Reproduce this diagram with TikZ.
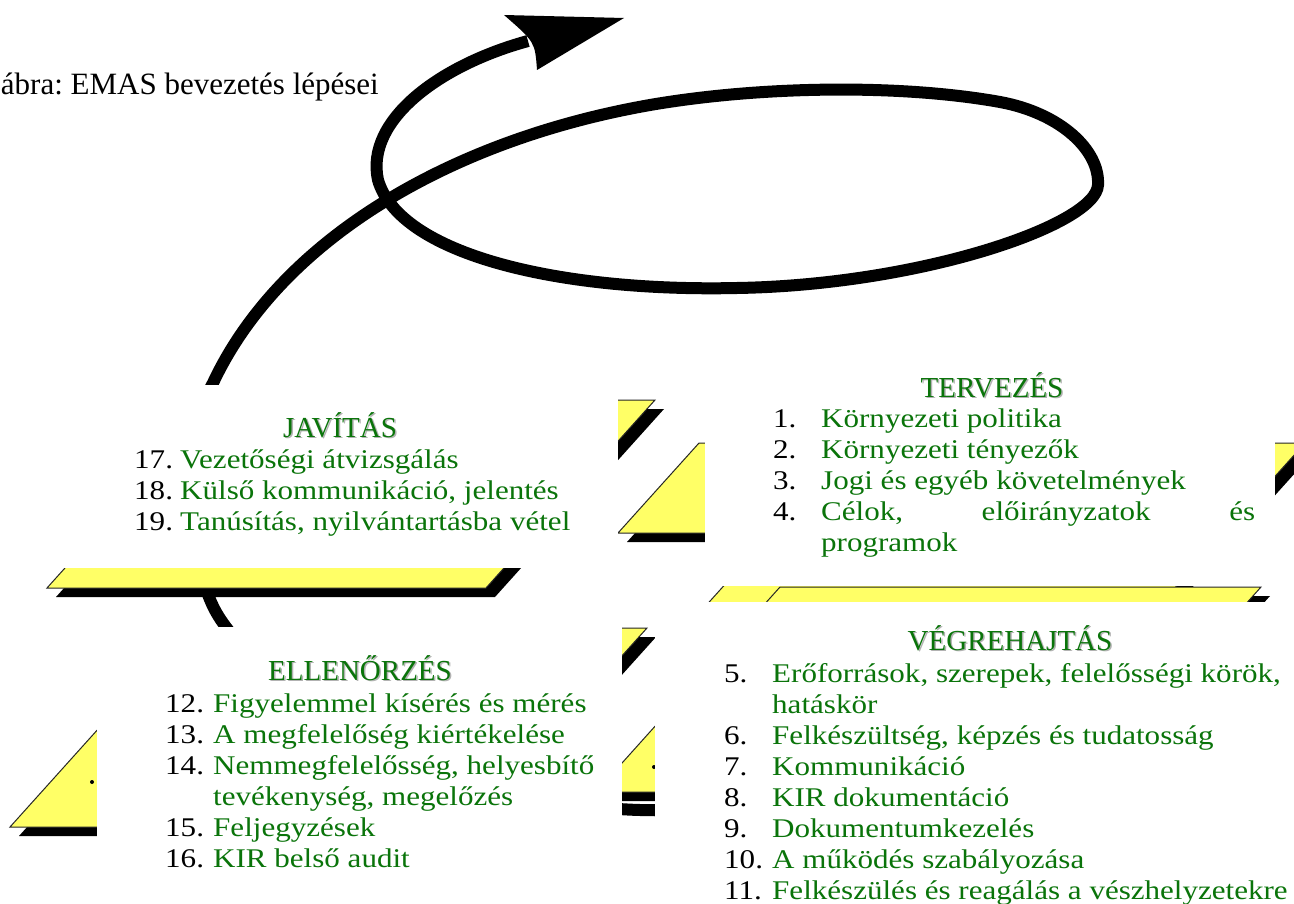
\documentclass[tikz,border=0pt]{standalone}
\usepackage{fontspec}
\setmainfont{Liberation Serif}
\newfontfamily\itemfont[FakeStretch=1.15]{Liberation Serif}
\frenchspacing

\definecolor{phasegreen}{RGB}{10,116,10}
\definecolor{planeyellow}{RGB}{255,255,102}

\tikzset{
  bigarrow/.style    = {line width=12pt},
  plane/.style       = {fill=planeyellow, draw=black!85, line width=1pt},
  planeshadow/.style = {fill=black, shift={(9,9)}},
  cover/.style       = {fill=white},
  caption/.style     = {font=\fontsize{31}{36}\selectfont, anchor=base east, inner sep=0pt},
  heading/.style     = {font=\fontsize{29}{34}\selectfont, text=phasegreen, anchor=base, inner sep=0pt},
  headshadow/.style  = {heading, text=black!30},
  num/.style         = {font=\itemfont\fontsize{27}{31}\selectfont, anchor=base west, inner sep=0pt},
  item/.style        = {num, text=phasegreen}
}

\begin{document}
\begin{tikzpicture}[x=1pt, y=-1pt]
\useasboundingbox (0,0) rectangle (1294,904);

% the spiral arrow, behind everything

\draw[bigarrow] (700,811) -- (640,810)
  .. controls (450,805) and (260,690) .. (216,612)
  .. controls (192,570) and (175,450) .. (213,383)
  .. controls (280,240) and (450,140) .. (650,105)
  .. controls (760,86) and (900,84) .. (1000,102)
  .. controls (1060,113) and (1100,150) .. (1098,185)
  .. controls (1096,225) and (920,285) .. (737,288)
  .. controls (560,292) and (400,255) .. (378,180)
  .. controls (365,120) and (440,65) .. (528,41);
\fill (504,15) -- (624,18) -- (537,70) .. controls (535,42) .. (504,15) -- cycle;

% planes

% javitas
\fill[planeshadow]  (216,400) -- (655,400) -- (486,588) -- (47,588) -- cycle;
\filldraw[plane]    (216,400) -- (655,400) -- (486,588) -- (47,588) -- cycle;
% tervezes
\fill[planeshadow]  (699,443) -- (1305,443) -- (1224,533) -- (618,533) -- cycle;
\filldraw[plane]    (699,443) -- (1305,443) -- (1224,533) -- (618,533) -- cycle;
% behind vegrehajtas
\fill[planeshadow]  (747,560) -- (1200,560) -- (1128,640) -- (675,640) -- cycle;
\filldraw[plane]    (747,560) -- (1200,560) -- (1128,640) -- (675,640) -- cycle;
% vegrehajtas
\fill[planeshadow]  (780,587) -- (1261,587) -- (1077,792) -- (596,792) -- cycle;
\filldraw[plane]    (780,587) -- (1261,587) -- (1077,792) -- (596,792) -- cycle;
% ellenorzes
\fill[planeshadow]  (189,628) -- (647,628) -- (468,827) -- (10,827) -- cycle;
\filldraw[plane]    (189,628) -- (647,628) -- (468,827) -- (10,827) -- cycle;

\fill (654,767) circle (2);
\fill (92,782) circle (2);

% text boxes

\fill[cover] (0,385) rectangle (618,568);
\fill[cover] (705,300) rectangle (1275,586);
\fill[cover] (97,627) rectangle (622,885);
\fill[cover] (655,602) rectangle (1294,904);

\node[caption] (cap) at (379,95) {ábra: EMAS bevezetés lépései};

% TERVEZES

\node[headshadow] (tervS) at (993.5,398.5) {TERVEZÉS};
\node[heading]    (terv)  at (992,397) {TERVEZÉS};
\node[num]  (n1) at (773,427) {1.};
\node[item] (i1) at (821,427) {Környezeti politika};
\node[num]  (n2) at (773,458) {2.};
\node[item] (i2) at (821,458) {Környezeti tényezők};
\node[num]  (n3) at (773,489) {3.};
\node[item] (i3) at (821,489) {Jogi és egyéb követelmények};
\node[num]  (n4) at (773,520) {4.};
\node[item] (i4) at (821,520) {\makebox[434pt][s]{Célok,\hfill előirányzatok\hfill és}};
\node[item] (i4b) at (821,551) {programok};

% JAVITAS

\node[headshadow] (javS) at (341.5,438.5) {JAVÍTÁS};
\node[heading]    (jav)  at (340,437) {JAVÍTÁS};
\node[num]  (n17) at (134,468) {17.};
\node[item] (i17) at (180,468) {Vezetőségi átvizsgálás};
\node[num]  (n18) at (134,499) {18.};
\node[item] (i18) at (180,499) {Külső kommunikáció, jelentés};
\node[num]  (n19) at (134,530) {19.};
\node[item] (i19) at (180,530) {Tanúsítás, nyilvántartásba vétel};

% ELLENORZES

\node[headshadow] (ellS) at (361.5,681.5) {ELLENŐRZÉS};
\node[heading]    (ell)  at (360,680) {ELLENŐRZÉS};
\node[num]  (n12) at (165,712) {12.};
\node[item] (i12) at (213,712) {Figyelemmel kísérés és mérés};
\node[num]  (n13) at (165,743) {13.};
\node[item] (i13) at (213,743) {A megfelelőség kiértékelése};
\node[num]  (n14) at (165,774) {14.};
\node[item] (i14) at (213,774) {Nemmegfelelősség, helyesbítő};
\node[item] (i14b) at (213,805) {tevékenység, megelőzés};
\node[num]  (n15) at (165,836) {15.};
\node[item] (i15) at (213,836) {Feljegyzések};
\node[num]  (n16) at (165,867) {16.};
\node[item] (i16) at (213,867) {KIR belső audit};

% VEGREHAJTAS

\node[headshadow] (vegS) at (1011.5,651.5) {VÉGREHAJTÁS};
\node[heading]    (veg)  at (1010,650) {VÉGREHAJTÁS};
\node[num]  (n5)  at (724,682) {5.};
\node[item] (i5)  at (772,682) {Erőforrások, szerepek, felelősségi körök,};
\node[item] (i5b) at (772,713) {hatáskör};
\node[num]  (n6)  at (724,744) {6.};
\node[item] (i6)  at (772,744) {Felkészültség, képzés és tudatosság};
\node[num]  (n7)  at (724,775) {7.};
\node[item] (i7)  at (772,775) {Kommunikáció};
\node[num]  (n8)  at (724,806) {8.};
\node[item] (i8)  at (772,806) {KIR dokumentáció};
\node[num]  (n9)  at (724,837) {9.};
\node[item] (i9)  at (772,837) {Dokumentumkezelés};
\node[num]  (n10) at (724,868) {10.};
\node[item] (i10) at (772,868) {A működés szabályozása};
\node[num]  (n11) at (724,899) {11.};
\node[item] (i11) at (772,899) {Felkészülés és reagálás a vészhelyzetekre};

\end{tikzpicture}
\end{document}
